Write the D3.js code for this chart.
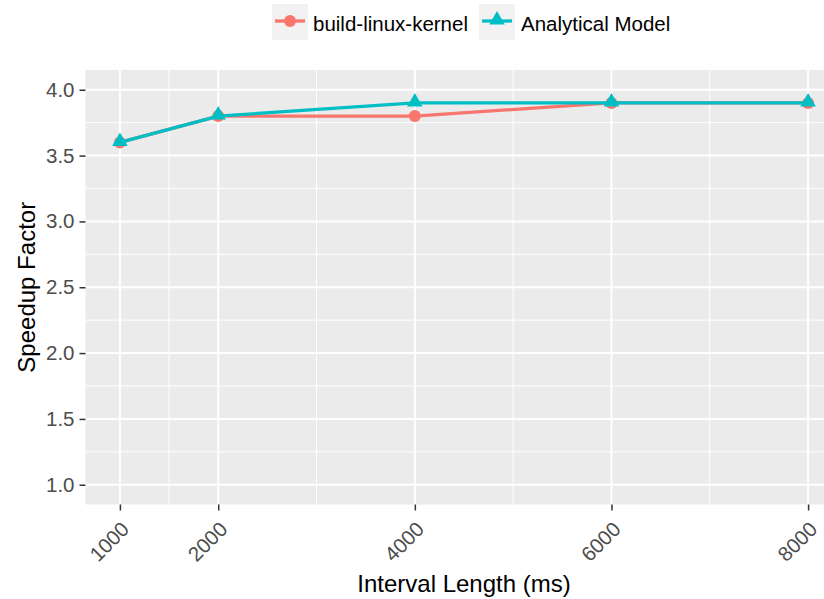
<!DOCTYPE html>
<html>
<head>
<meta charset="utf-8">
<script src="https://cdn.jsdelivr.net/npm/d3@7"></script>
<style>
  body { margin: 0; background: #fff; }
  text { font-family: "Liberation Sans", Arial, Helvetica, sans-serif; }
</style>
</head>
<body>
<svg id="chart" width="824" height="599"></svg>
<script>
// data
const intervals = [1000, 2000, 4000, 6000, 8000];
const kernel = [3.6, 3.8, 3.8, 3.9, 3.9];
const model = [3.6, 3.8, 3.9, 3.9, 3.9];
const yTicks = [1.0, 1.5, 2.0, 2.5, 3.0, 3.5, 4.0];
const yMinor = [1.25, 1.75, 2.25, 2.75, 3.25, 3.75];
const xMinor = [1500, 3000, 5000, 7000];
const seriesNames = ["build-linux-kernel", "Analytical Model"];

const red = "#F8766D", teal = "#00BFC4";

const svg = d3.select("#chart");
const panel = {left: 85.5, top: 70, right: 842.5, bottom: 504.5};

const x = d3.scaleLinear().domain([650, 8350]).range([panel.left, panel.right]);
const y = d3.scaleLinear().domain([0.85, 4.15]).range([panel.bottom, panel.top]);

// panel background
svg.append("rect")
  .attr("x", panel.left).attr("y", panel.top)
  .attr("width", panel.right - panel.left).attr("height", panel.bottom - panel.top)
  .attr("fill", "#EBEBEB");

const grid = svg.append("g").attr("stroke", "#fff");
grid.selectAll(".ymin").data(yMinor).join("line")
  .attr("x1", panel.left).attr("x2", panel.right)
  .attr("y1", d => y(d)).attr("y2", d => y(d)).attr("stroke-width", 1);
grid.selectAll(".xmin").data(xMinor).join("line")
  .attr("y1", panel.top).attr("y2", panel.bottom)
  .attr("x1", d => x(d)).attr("x2", d => x(d)).attr("stroke-width", 1);
grid.selectAll(".ymaj").data(yTicks).join("line")
  .attr("x1", panel.left).attr("x2", panel.right)
  .attr("y1", d => y(d)).attr("y2", d => y(d)).attr("stroke-width", 2);
grid.selectAll(".xmaj").data(intervals).join("line")
  .attr("y1", panel.top).attr("y2", panel.bottom)
  .attr("x1", d => x(d)).attr("x2", d => x(d)).attr("stroke-width", 2);

// axes
const yAxis = svg.append("g")
  .attr("transform", `translate(${panel.left},0)`)
  .call(d3.axisLeft(y).tickValues(yTicks).tickFormat(d3.format(".1f")).tickSize(6).tickPadding(5));
yAxis.select(".domain").remove();
yAxis.selectAll(".tick line").attr("stroke", "#333").attr("stroke-width", 1.5);
yAxis.selectAll(".tick text").attr("fill", "#4D4D4D").attr("font-size", 20.5);

const xAxis = svg.append("g")
  .attr("transform", `translate(0,${panel.bottom})`)
  .call(d3.axisBottom(x).tickValues(intervals).tickFormat(d3.format("d")).tickSize(6));
xAxis.select(".domain").remove();
xAxis.selectAll(".tick line").attr("stroke", "#333").attr("stroke-width", 1.5);
xAxis.selectAll(".tick text")
  .attr("fill", "#4D4D4D").attr("font-size", 20.5)
  .attr("text-anchor", "end")
  .attr("y", 0).attr("dy", 0)
  .attr("transform", "translate(10,26) rotate(-45)");

// titles
svg.append("text")
  .attr("x", 464).attr("y", 592)
  .attr("text-anchor", "middle").attr("font-size", 24).attr("fill", "#000")
  .text("Interval Length (ms)");
svg.append("text")
  .attr("transform", `translate(35,${(panel.top + panel.bottom) / 2}) rotate(-90)`)
  .attr("text-anchor", "middle").attr("font-size", 24).attr("fill", "#000")
  .text("Speedup Factor");

// lines
const line = d3.line().x(d => x(d[0])).y(d => y(d[1]));
const kernelPts = intervals.map((d, i) => [d, kernel[i]]);
const modelPts = intervals.map((d, i) => [d, model[i]]);

svg.append("path").datum(kernelPts).attr("d", line)
  .attr("fill", "none").attr("stroke", red).attr("stroke-width", 3.3);
svg.append("g").selectAll("circle").data(kernelPts).join("circle")
  .attr("cx", d => x(d[0])).attr("cy", d => y(d[1])).attr("r", 6).attr("fill", red);

svg.append("path").datum(modelPts).attr("d", line)
  .attr("fill", "none").attr("stroke", teal).attr("stroke-width", 3.3);
const tri = d3.symbol().type(d3.symbolTriangle).size(105);
svg.append("g").selectAll("path").data(modelPts).join("path")
  .attr("d", tri)
  .attr("transform", d => `translate(${x(d[0])},${y(d[1]) - 1})`)
  .attr("fill", teal);

// legend
const legend = svg.append("g");
const keys = [
  {name: seriesNames[0], col: red, kx: 272, tx: 313, shape: "circle"},
  {name: seriesNames[1], col: teal, kx: 479, tx: 521, shape: "triangle"}
];
keys.forEach(k => {
  const g = legend.append("g");
  g.append("rect").attr("x", k.kx).attr("y", 4).attr("width", 36).attr("height", 36).attr("fill", "#F2F2F2");
  g.append("line").attr("x1", k.kx + 3).attr("x2", k.kx + 33).attr("y1", 21).attr("y2", 21)
    .attr("stroke", k.col).attr("stroke-width", 3.3);
  if (k.shape === "circle") {
    g.append("circle").attr("cx", k.kx + 18).attr("cy", 21).attr("r", 6).attr("fill", k.col);
  } else {
    g.append("path").attr("d", tri).attr("transform", `translate(${k.kx + 18},20)`).attr("fill", k.col);
  }
  g.append("text").attr("x", k.tx).attr("y", 31).attr("font-size", 20.5).attr("fill", "#000").text(k.name);
});
</script>
</body>
</html>
